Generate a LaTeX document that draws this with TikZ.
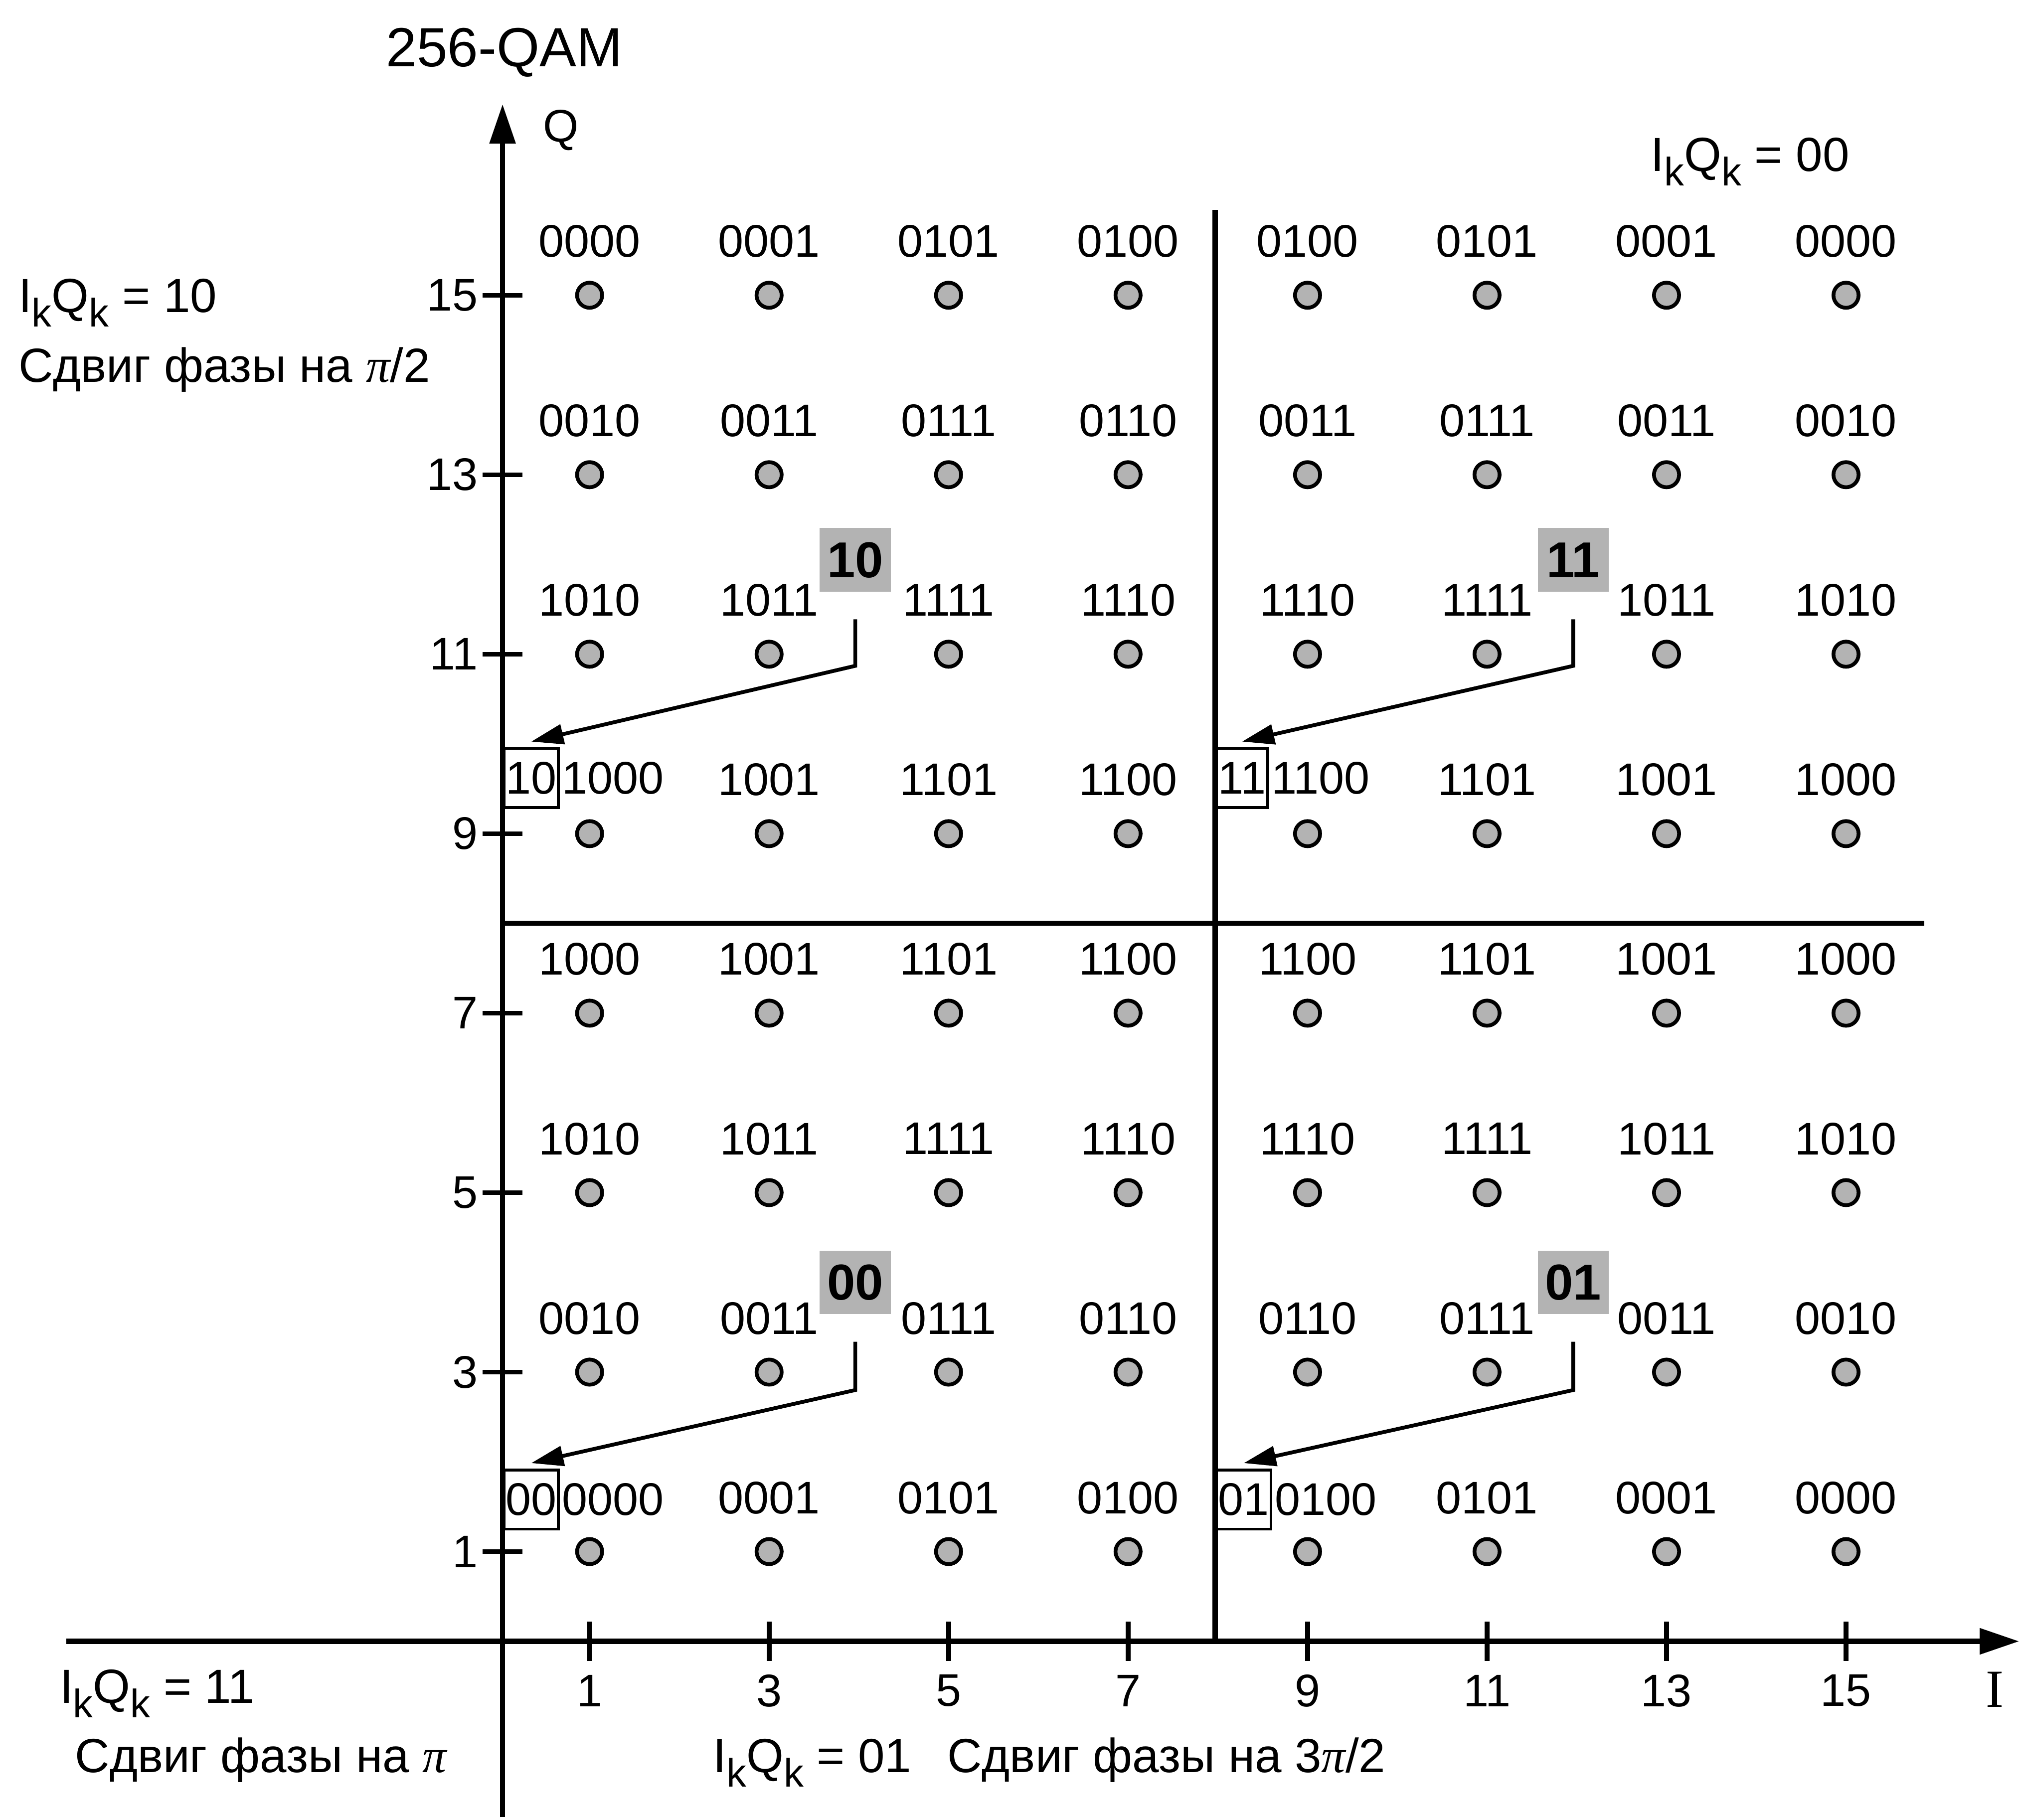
\documentclass[tikz,border=0pt]{standalone}
\usepackage{fontspec}
\setmainfont{Liberation Sans}
\newfontfamily\seriffont{Liberation Serif}
\usepackage{graphicx}
\usepackage{xcolor}
\usepackage{tikz}
\usetikzlibrary{arrows.meta, positioning}

\definecolor{dotgray}{RGB}{179,179,179}
\newcommand{\IkQk}{I\raisebox{-0.3em}{\scalebox{0.83}{k}}Q\raisebox{-0.3em}{\scalebox{0.83}{k}}}
\newcommand{\gpi}{{\seriffont\itshape π}}

\begin{document}
\begin{tikzpicture}[
        font=\fontsize{14.5}{17}\selectfont,
        sym/.style={
            circle,
            draw=black,
            fill=dotgray,
            line width=1.2pt,
            minimum size=0.28cm,
            inner sep=0pt
        },
        bits/.style={inner sep=0pt},
        tag/.style={
            draw,
            line width=0.9pt,
            minimum height=0.66cm,
            inner xsep=0.02cm,
            anchor=west
        },
        quad/.style={
            fill=dotgray,
            minimum width=0.79cm,
            minimum height=0.71cm,
            inner sep=0pt,
            font=\fontsize{16}{19}\selectfont\bfseries
        },
        note/.style={inner sep=0pt, anchor=base west, font=\fontsize{15.2}{18}\selectfont},
        axisline/.style={line width=1.7pt, -{Triangle[length=0.44cm, width=0.28cm]}},
        tickmark/.style={line width=1.5pt},
        divider/.style={line width=1.6pt},
        pointer/.style={line width=1.2pt, -{Triangle[length=0.36cm, width=0.22cm]}}
    ]
    \useasboundingbox (-5.57,-1.99) rectangle (16.95,18.29);

    % Axes
    \coordinate (Ileft) at (-4.83,0);
    \coordinate (Iend) at (16.93,0);
    \coordinate (Qbot) at (0.03,-1.96);
    \coordinate (Qtop) at (0.03,17.13);
    \draw[axisline] (Ileft) -- (Iend);
    \draw[axisline] (Qbot) -- (Qtop);
    \node[bits, font=\seriffont\fontsize{17}{20}\selectfont] (ilab) at (16.66,-0.54) {I};
    \node[bits] (qlab) at (0.68,16.84) {Q};
    \node[bits, anchor=base, font=\fontsize{17.5}{21}\selectfont] (title) at (0.05,17.55) {256-QAM};

    \foreach \v in {1,3,...,15} {
        \draw[tickmark] (\v,-0.22) -- (\v,0.22);
        \draw[tickmark] (-0.19,\v) -- (0.25,\v);
        \node[bits] (ix\v) at (\v,-0.55) {\v};
        \node[bits, anchor=east] (qy\v) at (-0.24,\v) {\v};
    }

    % Quadrant borders
    \draw[divider] (7.97,0) -- (7.97,15.95);
    \draw[divider] (0.03,8) -- (15.87,8);

    % Constellation points
    \foreach \x in {1,3,...,15}
        \foreach \y in {1,3,...,15}
            \node[sym] (p\x-\y) at (\x,\y) {};

    % Bit labels
    \foreach \y/\row in {
        15/{1/0000,3/0001,5/0101,7/0100,9/0100,11/0101,13/0001,15/0000},
        13/{1/0010,3/0011,5/0111,7/0110,9/0011,11/0111,13/0011,15/0010},
        11/{1/1010,3/1011,5/1111,7/1110,9/1110,11/1111,13/1011,15/1010},
        9/{3/1001,5/1101,7/1100,11/1101,13/1001,15/1000},
        7/{1/1000,3/1001,5/1101,7/1100,9/1100,11/1101,13/1001,15/1000},
        5/{1/1010,3/1011,5/1111,7/1110,9/1110,11/1111,13/1011,15/1010},
        3/{1/0010,3/0011,5/0111,7/0110,9/0110,11/0111,13/0011,15/0010},
        1/{3/0001,5/0101,7/0100,11/0101,13/0001,15/0000}}
        \foreach \x/\lab in \row
            \node[bits] (b\x-\y) at (\x,\y+0.6) {\lab};

    % Quadrant prefixes
    \node[tag] (t10) at (0.03,9.62) {10};
    \node[tag] (t11) at (7.97,9.62) {11};
    \node[tag] (t00) at (0.03,1.58) {00};
    \node[tag] (t01) at (7.97,1.58) {01};
    \node[bits, right=0.02cm of t10] (b1-9) {1000};
    \node[bits, right=0.02cm of t11] (b9-9) {1100};
    \node[bits, right=0.02cm of t00] (b1-1) {0000};
    \node[bits, right=0.02cm of t01] (b9-1) {0100};

    \node[quad] (g10) at (3.96,12.05) {10};
    \node[quad] (g11) at (11.96,12.05) {11};
    \node[quad] (g00) at (3.96,4.0) {00};
    \node[quad] (g01) at (11.96,4.0) {01};

    \coordinate (k10) at (3.96,10.87);
    \coordinate (k11) at (11.96,10.87);
    \coordinate (k00) at (3.96,2.8);
    \coordinate (k01) at (11.96,2.8);
    \draw[pointer] ([yshift=-0.3cm]g10.south) -- (k10) -- ([yshift=0.06cm]t10.north);
    \draw[pointer] ([yshift=-0.3cm]g11.south) -- (k11) -- ([yshift=0.06cm]t11.north);
    \draw[pointer] ([yshift=-0.3cm]g00.south) -- (k00) -- ([yshift=0.06cm]t00.north);
    \draw[pointer] ([yshift=-0.3cm]g01.south) -- (k01) -- ([yshift=0.06cm]t01.north);

    % Phase notes
    \node[note] (n00) at (12.82,16.38) {\IkQk{} = 00};
    \node[note] (n10) at (-5.37,14.81) {\IkQk{} = 10};
    \node[note] (s10) at (-5.37,14.03) {Сдвиг фазы на \gpi/2};
    \node[note] (n11) at (-4.91,-0.69) {\IkQk{} = 11};
    \node[note] (s11) at (-4.74,-1.46) {Сдвиг фазы на \gpi};
    \node[note] (n01) at (2.37,-1.46) {\IkQk{} = 01\hspace{0.4cm}Сдвиг фазы на 3\gpi/2};

\end{tikzpicture}
\end{document}
